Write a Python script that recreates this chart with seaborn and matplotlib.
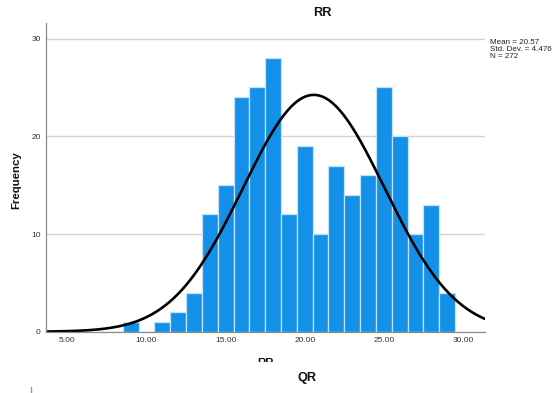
import numpy as np
import pandas as pd
import matplotlib
matplotlib.use("Agg")
import matplotlib.pyplot as plt
from matplotlib.lines import Line2D
from matplotlib.patches import Rectangle
import seaborn as sns

# ---- data ----
bin_centers = [9, 10, 11, 12, 13, 14, 15, 16, 17, 18, 19, 20, 21, 22, 23, 24, 25, 26, 27, 28, 29]
counts = [1, 0, 1, 2, 4, 12, 15, 24, 25, 28, 12, 19, 10, 17, 14, 16, 25, 20, 10, 13, 4]
mean_val = 20.57
sd_val = 4.476
n_val = 272
x_ticks = [5, 10, 15, 20, 25, 30]
y_ticks = [0, 10, 20, 30]
title = "RR"
x_label = "RR"
y_label = "Frequency"
next_title = "QR"

sns.set_theme(style="white")
plt.rcParams["font.family"] = ["Liberation Sans", "DejaVu Sans"]

W, H = 556, 393
fig = plt.figure(figsize=(W / 100, H / 100), dpi=100)
ax = fig.add_axes([45.7 / W, 1 - 331.7 / H, (485 - 45.7) / W, (331.7 - 23) / H])

df = pd.DataFrame({"value": bin_centers, "count": counts})
sns.histplot(data=df, x="value", weights="count", discrete=True, shrink=1,
             color="#1490e8", alpha=1, edgecolor="#c4e2f8", linewidth=0.9, ax=ax, zorder=2)

xmin, xmax = 3.63, 31.39
xs = np.linspace(xmin, xmax, 400)
bin_w = 1.0
pdf = n_val * bin_w / (sd_val * np.sqrt(2 * np.pi)) * np.exp(-0.5 * ((xs - mean_val) / sd_val) ** 2)
sns.lineplot(x=xs, y=pdf, color="black", linewidth=1.9, ax=ax, zorder=3)

ax.set_xlim(xmin, xmax)
ax.set_ylim(0, 31.6)
ax.set_xticks(x_ticks)
ax.set_xticklabels([f"{t:.2f}" for t in x_ticks])
ax.set_yticks(y_ticks)
ax.set_yticklabels([str(t) for t in y_ticks])
ax.yaxis.grid(True, color="#d4d4d4", linewidth=1, zorder=0)
ax.set_axisbelow(True)
ax.tick_params(axis="x", length=0, labelsize=6, colors="#333333", pad=3.8)
ax.tick_params(axis="y", length=2, labelsize=6, colors="#333333", pad=1.5, color="#999999")
for s in ["top", "right"]:
    ax.spines[s].set_visible(False)
for s in ["left", "bottom"]:
    ax.spines[s].set_color("#8c8c8c")
    ax.spines[s].set_linewidth(0.9)
    ax.spines[s].set_zorder(4)
ax.set_xlabel("")
ax.set_ylabel("")

fig.text(16 / W, 1 - 180 / H, y_label, rotation=90, ha="center", va="center",
         fontsize=8.2, fontweight="bold", color="#111111")
fig.text(322.7 / W, 1 - 12.8 / H, title, ha="center", va="center", fontsize=9.2,
         fontweight="bold", color="#111111")
fig.text(490.5 / W, 1 - 39 / H,
         f"Mean = {mean_val:.2f}\nStd. Dev. = {sd_val:.3f}\nN = {n_val}",
         ha="left", va="top", fontsize=5.8, linespacing=1.05, color="#222222")

# x-axis title, cut off by the page below it
fig.text(265 / W, 1 - 357.5 / H, x_label, ha="center", va="top", fontsize=8.2,
         fontweight="bold", color="#111111")
fig.patches.append(Rectangle((0, 0), 1, 1 - 361.5 / H, transform=fig.transFigure,
                             facecolor="white", edgecolor="none", zorder=5))
t = fig.text(307.5 / W, 1 - 378.3 / H, next_title, ha="center", va="center",
             fontsize=9.2, fontweight="bold", color="#111111")
t.set_zorder(6)
fig.lines.append(Line2D([31 / W, 31 / W], [1 - 387 / H, 1 - 393 / H], transform=fig.transFigure,
                        color="#9a9a9a", linewidth=1, zorder=6))

fig.savefig("out.png", dpi=100)
